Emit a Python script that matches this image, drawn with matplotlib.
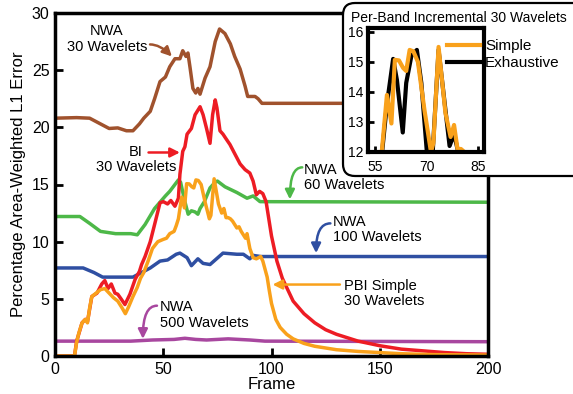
import matplotlib
matplotlib.use('Agg')
import matplotlib.pyplot as pl
from matplotlib.patches import FancyBboxPatch

pl.rcParams['font.family'] = ['Liberation Sans', 'DejaVu Sans']

# NWA 30 wavelets (brown)
nwa30_frame = [0, 10, 16, 20, 25, 29, 33, 36, 39, 41, 44, 46, 48.5, 51, 53, 55.4, 57.7,
               59, 60.5, 61.4, 62.4, 63.7, 65, 66, 67, 69.3, 71.6, 74, 76, 78.5, 81, 83,
               85.5, 87.8, 89, 92.4, 93.8, 95.6, 200]
nwa30_err = [20.8, 20.85, 20.8, 20.4, 19.9, 19.95, 19.7, 19.7, 20.3, 20.8, 21.4, 22.5, 24.0,
             24.4, 25.3, 26.0, 26.0, 26.7, 26.2, 26.5, 25.2, 23.4, 23.0, 23.4, 22.9, 24.3,
             25.3, 27.5, 28.6, 28.2, 27.3, 26.2, 25.1, 23.6, 22.7, 22.7, 22.5, 22.1, 22.1]

# NWA 60 wavelets (green)
nwa60_frame = [0, 11.5, 16, 21, 28, 35, 38, 41.6, 46, 51, 53, 55.4, 57, 58, 60, 61.5, 63,
               64.7, 66, 67, 69, 71.6, 74, 75, 78.5, 84, 88.7, 91.5, 94.7, 200]
nwa60_err = [12.2, 12.2, 11.6, 10.9, 10.7, 10.7, 10.6, 11.5, 12.9, 14.0, 14.4, 15.0, 15.4,
             15.2, 13.5, 12.4, 12.7, 12.6, 12.4, 12.9, 13.5, 14.7, 15.2, 15.3, 14.8, 14.3,
             13.8, 14.0, 13.5, 13.45]

# NWA 100 wavelets (blue)
nwa100_frame = [0, 13, 18, 22, 36, 39, 44, 48.5, 52, 56, 57.7, 61, 63, 66, 68.4, 71.6,
                74.6, 77.6, 84, 87, 90, 91.5, 95, 200]
nwa100_err = [7.7, 7.7, 7.3, 6.9, 6.9, 7.2, 7.7, 8.3, 8.4, 8.9, 9.0, 8.6, 7.9, 8.5, 8.1,
              8.0, 8.5, 9.0, 8.9, 8.9, 8.5, 8.8, 8.7, 8.7]

# NWA 500 wavelets (purple)
nwa500_frame = [0, 35, 45, 55, 60, 65, 70, 80, 90, 97, 200]
nwa500_err = [1.3, 1.3, 1.4, 1.45, 1.55, 1.45, 1.4, 1.5, 1.4, 1.3, 1.25]

# BI 30 wavelets (red)
bi_frame = [0, 9, 10, 12.5, 14, 15, 17, 19.4, 21.6, 23, 24.5, 26, 27.7, 29, 30.5, 32.3,
            34.6, 37, 39, 40, 41.6, 44, 46, 48.5, 50, 52, 53.5, 55.4, 57, 57.7, 59, 60,
            61, 63, 64.7, 67, 68.4, 70, 71.6, 72.8, 74, 74.8, 76.2, 77.6, 79, 80.8, 83,
            85.5, 87.8, 90, 91.5, 93, 94.5, 96, 97.5, 98.5, 100, 102.5, 105, 110, 115,
            120, 125, 130, 135, 140, 150, 160, 170, 180, 190, 200]
bi_err = [0, 0, 1.3, 2.9, 3.2, 3.0, 5.2, 5.5, 6.3, 6.6, 5.9, 6.3, 5.5, 5.4, 5.0, 4.5,
          5.4, 6.7, 7.4, 8.0, 8.7, 10.0, 11.5, 13.4, 13.5, 13.3, 13.6, 13.1, 13.8, 15.9,
          17.9, 18.3, 19.4, 19.9, 21.1, 21.8, 21.1, 19.9, 18.6, 21.1, 22.4, 21.7, 19.7,
          19.4, 19.0, 18.5, 17.7, 16.8, 16.3, 16.0, 15.3, 14.1, 14.4, 14.2, 13.5, 12.3,
          10.5, 8.3, 6.8, 4.8, 3.7, 2.9, 2.3, 1.9, 1.6, 1.3, 0.9, 0.6, 0.45, 0.3, 0.2, 0.15]

# PBI Simple 30 wavelets (orange), also the inset "Simple" curve
pbi_frame = [0, 9, 10, 11, 12.5, 14, 15, 16, 17, 19, 21, 23, 25, 27, 29, 31, 32.5, 34,
             36, 38, 39.5, 41, 43, 45, 47.5, 50, 51.5, 53, 55, 56, 57, 58.5, 59.8, 60.8,
             62, 63.2, 64.1, 65.1, 66.2, 67.5, 69.4, 71.3, 72, 73.5, 75.5, 77, 78, 79, 80,
             81, 82, 84, 85, 86, 88, 88.7, 90, 91.5, 93, 95, 96, 97, 98, 99, 100, 102,
             104, 107, 110, 115, 120, 130, 140, 150, 160, 175, 200]
pbi_err = [0, 0, 1.2, 2.0, 2.9, 3.2, 2.9, 4.2, 5.2, 5.5, 5.8, 5.9, 5.5, 5.1, 4.8, 4.2,
           3.7, 4.3, 5.2, 6.0, 6.8, 7.3, 8.3, 9.4, 10.0, 10.2, 10.3, 10.7, 10.9, 11.4,
           12.0, 13.9, 12.95, 15.07, 15.05, 14.8, 14.7, 15.4, 15.35, 15.0, 13.4, 12.0,
           12.3, 15.5, 13.3, 12.5, 12.9, 12.1, 12.1, 12.0, 11.8, 11.2, 11.3, 10.9, 10.3,
           10.7, 9.4, 8.6, 8.5, 8.7, 8.3, 7.6, 6.9, 5.7, 4.6, 3.2, 2.5, 1.9, 1.5, 1.1,
           0.85, 0.55, 0.4, 0.3, 0.2, 0.12, 0.08]

# inset: per-band incremental exhaustive (black)
exh_frame = [55, 57.1, 58.5, 60.3, 61.4, 63.1, 64.1, 65.6, 67.2, 68.5, 70.1, 71.8, 73.5,
             76.7, 78, 79, 80.5, 82]
exh_err = [11.0, 12.0, 13.6, 15.1, 14.4, 12.65, 14.3, 15.2, 15.4, 14.3, 12.0, 12.0, 15.4,
           12.2, 12.6, 12.1, 12.0, 11.6]

BROWN = '#A0522D'
GREEN = '#4DB848'
BLUE = '#2F4FA2'
PURPLE = '#A8479F'
RED = '#ED1C24'
ORANGE = '#F9A11B'


def arrow(ax, start, end, color, style='arc3'):
    ax.annotate('', xy=end, xytext=start,
                arrowprops=dict(arrowstyle='-|>', color=color, lw=1.8,
                                mutation_scale=14, shrinkA=0, shrinkB=0,
                                connectionstyle=style))


def main():
    fig = pl.figure(figsize=(5.73, 3.94), dpi=100)
    ax = fig.add_axes([55 / 573, 38 / 394, 433 / 573, 343 / 394])

    lw = 2.5
    ax.plot(nwa500_frame, nwa500_err, color=PURPLE, lw=lw)
    ax.plot(nwa30_frame, nwa30_err, color=BROWN, lw=lw)
    ax.plot(nwa60_frame, nwa60_err, color=GREEN, lw=lw)
    ax.plot(nwa100_frame, nwa100_err, color=BLUE, lw=lw)
    ax.plot(bi_frame, bi_err, color=RED, lw=lw)
    ax.plot(pbi_frame, pbi_err, color=ORANGE, lw=lw)

    ax.set_xlim(0, 200)
    ax.set_ylim(0, 30)
    ax.set_xticks([0, 50, 100, 150, 200])
    ax.set_yticks([0, 5, 10, 15, 20, 25, 30])
    ax.tick_params(direction='in', length=6, width=2, labelsize=11.5, pad=4)
    for s in ax.spines.values():
        s.set_linewidth(2.5)
    ax.set_xlabel('Frame', fontsize=12, labelpad=0)
    ax.set_ylabel('Percentage Area-Weighted L1 Error', fontsize=12, labelpad=4)

    fs = 10.5
    ax.text(24, 27.75, 'NWA\n30 Wavelets', ha='center', va='center', fontsize=fs,
            linespacing=1.15)
    arrow(ax, (43.9, 27.25), (54.0, 26.2), BROWN, 'angle3,angleA=0,angleB=-45')

    ax.text(37.4, 17.2, 'BI\n30 Wavelets', ha='center', va='center', fontsize=fs,
            linespacing=1.15)
    arrow(ax, (43.2, 17.8), (57.7, 17.8), RED)

    ax.text(115, 15.6, 'NWA\n60 Wavelets', ha='left', va='center', fontsize=fs,
            linespacing=1.15)
    arrow(ax, (114.2, 16.5), (108.5, 13.7), GREEN, 'angle3,angleA=180,angleB=90')

    ax.text(128.4, 11.05, 'NWA\n100 Wavelets', ha='left', va='center', fontsize=fs,
            linespacing=1.15)
    arrow(ax, (127.2, 11.6), (120.6, 9.0), BLUE, 'angle3,angleA=180,angleB=90')

    ax.text(133.5, 5.46, 'PBI Simple\n30 Wavelets', ha='left', va='center', fontsize=fs,
            linespacing=1.15)
    arrow(ax, (131.6, 6.25), (100.5, 6.25), ORANGE)

    ax.text(48.5, 3.6, 'NWA\n500 Wavelets', ha='left', va='center', fontsize=fs,
            linespacing=1.15)
    arrow(ax, (47.1, 4.4), (40.6, 1.5), PURPLE, 'angle3,angleA=180,angleB=90')

    # rounded white box behind the inset
    box = FancyBboxPatch((3.43, 2.18), 2.6, 1.73,
                         boxstyle='round,pad=0,rounding_size=0.12',
                         transform=fig.dpi_scale_trans, facecolor='white',
                         edgecolor='black', lw=1.6, zorder=1)
    fig.patches.append(box)

    ins = fig.add_axes([368 / 573, 242 / 394, 116 / 573, 124 / 394], zorder=2)
    ins.plot(exh_frame, exh_err, color='black', lw=3, label='Exhaustive')
    ins.plot(pbi_frame, pbi_err, color=ORANGE, lw=3, label='Simple')
    ins.set_xlim(53, 86.7)
    ins.set_ylim(12, 16.13)
    ins.set_xticks([55, 70, 85])
    ins.set_yticks([12, 13, 14, 15, 16])
    ins.tick_params(direction='in', length=4, width=2, labelsize=10, pad=3)
    ins.tick_params(axis='x', pad=6)
    for s in ins.spines.values():
        s.set_linewidth(3)
    ins.set_title('Per-Band Incremental 30 Wavelets', fontsize=10, pad=4, x=0.78)
    handles, labels = ins.get_legend_handles_labels()
    ins.legend(handles[::-1], labels[::-1], loc='upper left', bbox_to_anchor=(0.68, 0.91),
               frameon=False, fontsize=11, handlelength=2.2, handletextpad=0.3,
               borderpad=0, borderaxespad=0, labelspacing=0.2)

    fig.savefig('out.png', dpi=100)


if __name__ == '__main__':
    main()
